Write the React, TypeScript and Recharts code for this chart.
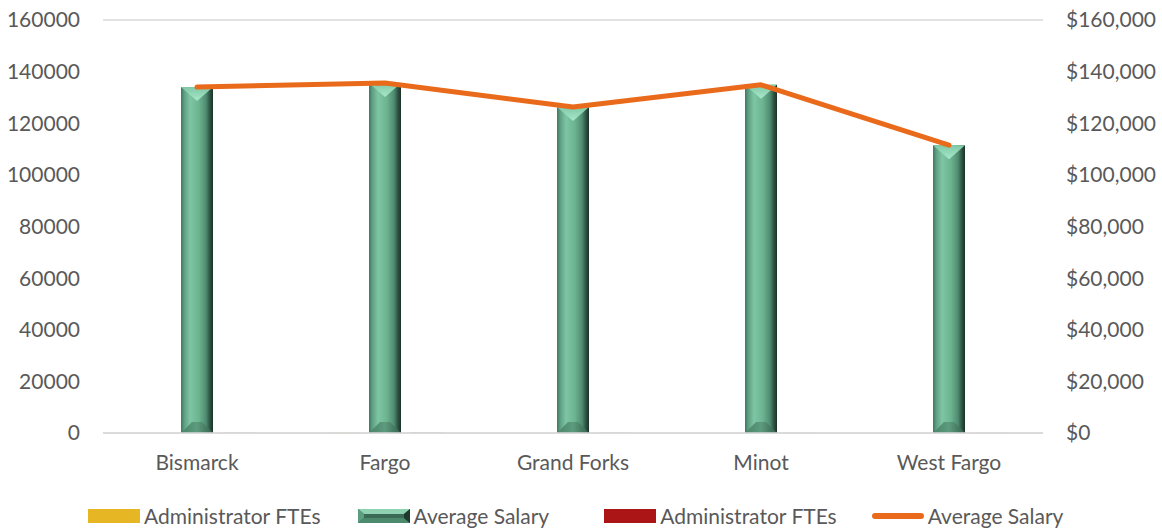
import React from "react";
import {
  ComposedChart, Bar, Line, XAxis, YAxis, CartesianGrid, Legend
} from "recharts";

// values
const cities = ["Bismarck", "Fargo", "Grand Forks", "Minot", "West Fargo"];
const adminFtesA = [40, 55, 30, 25, 20];
const avgSalaryBars = [134000, 135600, 126300, 134900, 111500];
const adminFtesB = [35, 50, 28, 22, 18];
const avgSalaryLine = [134000, 135600, 126300, 134900, 111500];
const leftTicks = [0, 20000, 40000, 60000, 80000, 100000, 120000, 140000, 160000];

const data = cities.map((c, i) => ({
  city: c,
  ftesA: adminFtesA[i],
  salaryBar: avgSalaryBars[i],
  ftesB: adminFtesB[i],
  salaryLine: avgSalaryLine[i],
}));

const FONT = "Lato, 'Open Sans', sans-serif";
const TEXT = "#595959";
const tick = { fontSize: 21, fill: TEXT, fontFamily: FONT };

// bevelled green column, drawn from the bar's computed rect
function BevelBar(props: any) {
  const { x, y, width: w, height: h } = props;
  if (!(h > 0) || !(w > 0)) return null;
  const t = Math.min(w / 2 - 2, h / 2);
  const b = Math.min(11, h / 3);
  return (
    <g>
      <rect x={x} y={y} width={w} height={h} fill="url(#bodyGrad)" />
      <polygon points={`${x},${y} ${x + w},${y} ${x + w / 2},${y + t}`} fill="url(#topGrad)" />
      <polygon
        points={`${x},${y + h} ${x + w},${y + h} ${x + w - b},${y + h - b} ${x + b},${y + h - b}`}
        fill="url(#botGrad)"
      />
    </g>
  );
}

function LegendContent() {
  const items = [
    { label: "Administrator FTEs", kind: "solid", color: "#E6B625", gap: 37 },
    { label: "Average Salary", kind: "bevel", color: "", gap: 55 },
    { label: "Administrator FTEs", kind: "solid", color: "#AC1515", gap: 35 },
    { label: "Average Salary", kind: "line", color: "#EA6A1C", gap: 0 },
  ];
  return (
    <div style={{ height: 48, display: "flex", alignItems: "flex-end", justifyContent: "flex-start", paddingLeft: 88, paddingBottom: 3, boxSizing: "border-box" }}>
      {items.map((it, i) => (
        <div key={i} style={{ display: "flex", alignItems: "center", gap: 4, marginRight: it.gap, fontFamily: FONT, fontSize: 21, color: TEXT }}>
          {it.kind === "solid" && <div style={{ width: 52, height: 14, background: it.color }} />}
          {it.kind === "bevel" && (
            <svg width={52} height={14}>
              <rect x={0} y={0} width={52} height={14} fill="#2f5a47" />
              <polygon points="0,0 52,0 46,5 6,5" fill="#8fd2b1" />
              <polygon points="0,14 52,14 46,9 6,9" fill="#4d8a6d" />
              <polygon points="0,0 6,5 6,9 0,14" fill="#5c9e80" />
              <polygon points="52,0 46,5 46,9 52,14" fill="#1e3a2e" />
              <rect x={6} y={5} width={40} height={4} fill="#3b6b56" />
            </svg>
          )}
          {it.kind === "line" && <div style={{ width: 52, height: 6, borderRadius: 3, background: it.color }} />}
          <span>{it.label}</span>
        </div>
      ))}
    </div>
  );
}

export default function App() {
  return (
    <div style={{ position: "absolute", left: 0, top: 0, background: "#fff" }}>
      <ComposedChart
        width={1162}
        height={531}
        data={data}
        margin={{ top: 20, right: 0, bottom: 0, left: 0 }}
        barSize={32}
        barGap={9}
      >
        <defs>
          <linearGradient id="bodyGrad" x1="0" y1="0" x2="1" y2="0">
            <stop offset="0%" stopColor="#3f7760" />
            <stop offset="10%" stopColor="#5e9f82" />
            <stop offset="28%" stopColor="#7dc5a4" />
            <stop offset="55%" stopColor="#6db591" />
            <stop offset="78%" stopColor="#4f8c70" />
            <stop offset="90%" stopColor="#2e5445" />
            <stop offset="100%" stopColor="#1a3126" />
          </linearGradient>
          <linearGradient id="topGrad" x1="0" y1="0" x2="0" y2="1">
            <stop offset="0%" stopColor="#7fc8a6" />
            <stop offset="100%" stopColor="#a9e8ca" />
          </linearGradient>
          <linearGradient id="botGrad" x1="0" y1="0" x2="1" y2="0">
            <stop offset="0%" stopColor="#4a8468" />
            <stop offset="50%" stopColor="#5d9b7e" />
            <stop offset="100%" stopColor="#35604d" />
          </linearGradient>
        </defs>
        <CartesianGrid vertical={false} stroke="#d9d9d9" strokeWidth={1.5} />
        <XAxis
          dataKey="city"
          tick={tick}
          axisLine={{ stroke: "#d9d9d9", strokeWidth: 1.5 }}
          tickLine={false}
          tickSize={0}
          tickMargin={22}
          height={50}
        />
        <YAxis
          yAxisId="left"
          domain={[0, 160000]}
          ticks={leftTicks}
          tick={tick}
          axisLine={false}
          tickLine={false}
          tickSize={0}
          tickMargin={23}
          width={103}
          interval={0}
        />
        <YAxis
          yAxisId="right"
          orientation="right"
          domain={[0, 160000]}
          ticks={leftTicks}
          tickFormatter={(v: number) => "$" + v.toLocaleString("en-US")}
          tick={{ ...tick, textAnchor: "start" }}
          axisLine={false}
          tickLine={false}
          tickSize={0}
          tickMargin={23}
          width={119}
          interval={0}
        />
        <Legend verticalAlign="bottom" content={<LegendContent />} />
        <Bar yAxisId="left" dataKey="ftesA" name="Administrator FTEs" fill="#E6B625" isAnimationActive={false} />
        <Bar yAxisId="left" dataKey="salaryBar" name="Average Salary" shape={<BevelBar />} isAnimationActive={false} />
        <Bar yAxisId="left" dataKey="ftesB" name="Administrator FTEs" fill="#AC1515" isAnimationActive={false} />
        <Line
          yAxisId="right"
          dataKey="salaryLine"
          name="Average Salary"
          type="linear"
          stroke="#EA6A1C"
          strokeWidth={5}
          strokeLinecap="round"
          strokeLinejoin="round"
          dot={false}
          activeDot={false}
          isAnimationActive={false}
        />
      </ComposedChart>
    </div>
  );
}
